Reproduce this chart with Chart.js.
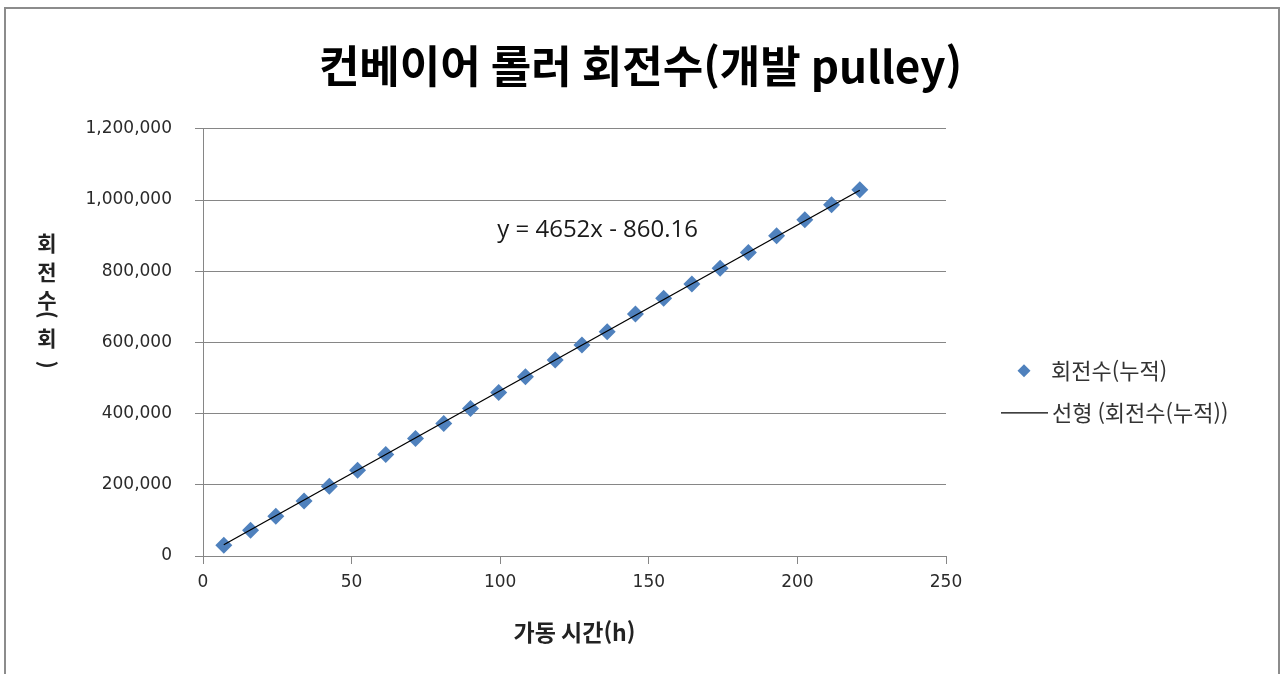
<!DOCTYPE html>
<html lang="ko">
<head>
<meta charset="utf-8">
<title>컨베이어 롤러 회전수(개발 pulley)</title>
<script src="https://cdn.jsdelivr.net/npm/chart.js@4/dist/chart.umd.min.js"></script>
<style>
  html, body { margin: 0; padding: 0; background: #fff; overflow: hidden; }
  #wrap { position: relative; width: 1281px; height: 674px; }
</style>
</head>
<body>
<div id="wrap"><canvas id="chart"></canvas></div>
<script>
// Operating hours (h) at each measurement
const hours = [7, 16, 24.5, 34, 42.5, 52, 61.5, 71.5, 81, 90, 99.5, 108.5,
               118.5, 127.5, 136, 145.5, 155, 164.5, 174, 183.5, 193, 202.5, 211.5, 221];
// Cumulative roller revolutions at each measurement
const revolutions = [30100, 72300, 111700, 154700, 196000, 241000, 285200, 330200,
                     372400, 414600, 459600, 503500, 550500, 592700, 630100, 679900,
                     724000, 764300, 808400, 852300, 899300, 944300, 986500, 1028700];
// Linear trend line coefficients
const slope = 4652;
const intercept = -860.16;
// Axis ticks
const xTicks = [0, 50, 100, 150, 200, 250];
const yTicks = [0, 200000, 400000, 600000, 800000, 1000000, 1200000];
// Texts
const chartTitle = '컨베이어 롤러 회전수(개발 pulley)';
const xTitle = '가동 시간(h)';
const yTitleChars = ['회', '전', '수', '(', '회', ')'];
const seriesName = '회전수(누적)';
const trendName = '선형 (회전수(누적))';

const KR = '"Noto Sans CJK KR", "Noto Sans", sans-serif';
const markerColor = '#4F81BD';
const gridColor = '#868686';

const xMin = Math.min(...hours);
const xMax = Math.max(...hours);
const trendPoints = [xMin, xMax].map(x => ({ x, y: slope * x + intercept }));
const equationText = 'y = ' + slope + 'x ' + (intercept < 0 ? '- ' : '+ ') + Math.abs(intercept);

const decor = {
  id: 'decor',
  beforeDraw(chart) {
    const { ctx, width, height } = chart;
    ctx.save();
    ctx.fillStyle = '#ffffff';
    ctx.fillRect(0, 0, width, height);
    ctx.restore();
  },
  afterDraw(chart) {
    const { ctx, width, height, chartArea, scales } = chart;
    ctx.save();

    // outer frame of the chart object
    ctx.strokeStyle = '#8c8c8c';
    ctx.lineWidth = 2;
    ctx.strokeRect(5, 8, width - 7, height + 20);

    // trend line equation
    ctx.font = '24px "Open Sans", sans-serif';
    ctx.fillStyle = '#1a1a1a';
    ctx.textAlign = 'left';
    ctx.textBaseline = 'middle';
    ctx.fillText(equationText, scales.x.getPixelForValue(99), scales.y.getPixelForValue(916000));

    // stacked vertical y-axis title
    ctx.font = 'bold 21px ' + KR;
    ctx.fillStyle = '#222';
    ctx.textAlign = 'center';
    const tx = 47;
    const rows = [114, 143, 171, 186, 209, 236];
    yTitleChars.forEach((ch, i) => {
      const ty = chartArea.top + rows[i];
      if (ch === '(' || ch === ')') {
        ctx.save();
        ctx.translate(tx, ty);
        ctx.rotate(Math.PI / 2);
        ctx.fillText(ch, 0, 0);
        ctx.restore();
      } else {
        ctx.fillText(ch, tx, ty);
      }
    });

    // legend
    const lx = chartArea.right;
    const ds = chart.data.datasets;
    ctx.font = '22px ' + KR;
    ctx.textAlign = 'left';
    // marker entry
    let ly = chartArea.top + 242;
    const cx = lx + 78, r = 6.5;
    ctx.beginPath();
    ctx.moveTo(cx - r, ly); ctx.lineTo(cx, ly - r); ctx.lineTo(cx + r, ly); ctx.lineTo(cx, ly + r);
    ctx.closePath();
    ctx.fillStyle = ds[0].backgroundColor;
    ctx.fill();
    ctx.fillStyle = '#333';
    ctx.fillText(ds[0].label, lx + 105, ly);
    // trend line entry
    ly = chartArea.top + 284;
    ctx.strokeStyle = ds[1].borderColor;
    ctx.lineWidth = 1.3;
    ctx.beginPath();
    ctx.moveTo(lx + 55, ly); ctx.lineTo(lx + 102, ly);
    ctx.stroke();
    ctx.fillText(ds[1].label, lx + 106, ly);

    ctx.restore();
  }
};

new Chart(document.getElementById('chart'), {
  type: 'scatter',
  data: {
    datasets: [
      {
        label: seriesName,
        data: hours.map((h, i) => ({ x: h, y: revolutions[i] })),
        pointStyle: 'rectRot',
        pointRadius: 8.5,
        backgroundColor: markerColor,
        borderColor: markerColor,
        borderWidth: 0,
        order: 2
      },
      {
        label: trendName,
        type: 'line',
        data: trendPoints,
        borderColor: '#000000',
        borderWidth: 1.3,
        pointRadius: 0,
        fill: false,
        order: 1
      }
    ]
  },
  options: {
    responsive: true,
    maintainAspectRatio: false,
    animation: false,
    events: [],
    layout: { padding: 0 },
    plugins: {
      legend: { display: false },
      tooltip: { enabled: false },
      title: {
        display: true,
        text: chartTitle,
        color: '#000',
        font: { family: KR, size: 44, weight: 'bold', lineHeight: 1.2 },
        padding: { top: 40, bottom: 36 }
      }
    },
    scales: {
      x: {
        type: 'linear',
        min: xTicks[0],
        max: xTicks[xTicks.length - 1],
        afterBuildTicks: s => { s.ticks = xTicks.map(v => ({ value: v })); },
        afterFit: s => { s.height = 118; },
        grid: { drawOnChartArea: false, drawTicks: true, tickLength: 8, color: gridColor, lineWidth: 1 },
        border: { display: true, color: gridColor, width: 1 },
        ticks: {
          padding: 8,
          color: '#2a2a2a',
          font: { family: '"DejaVu Sans", sans-serif', size: 17 },
          callback: v => v.toLocaleString('en-US')
        },
        title: {
          display: true,
          text: xTitle,
          color: '#222',
          font: { family: KR, size: 23, weight: 'bold', lineHeight: 1.2 },
          padding: { top: 0, bottom: 28 }
        }
      },
      y: {
        type: 'linear',
        min: yTicks[0],
        max: yTicks[yTicks.length - 1],
        afterBuildTicks: s => { s.ticks = yTicks.map(v => ({ value: v })); },
        afterFit: s => { s.width = 203; },
        grid: { drawOnChartArea: true, drawTicks: true, tickLength: 8, color: gridColor, lineWidth: 1 },
        border: { display: true, color: gridColor, width: 1 },
        ticks: {
          padding: 23,
          color: '#2a2a2a',
          font: { family: '"DejaVu Sans", sans-serif', size: 17 },
          callback: v => v.toLocaleString('en-US')
        }
      },
      // empty right-hand box that keeps room for the legend
      legendSpace: {
        type: 'linear',
        position: 'right',
        display: true,
        afterFit: s => { s.width = 335; },
        grid: { display: false, drawTicks: false },
        border: { display: false },
        ticks: { display: false }
      }
    }
  },
  plugins: [decor]
});
</script>
</body>
</html>
